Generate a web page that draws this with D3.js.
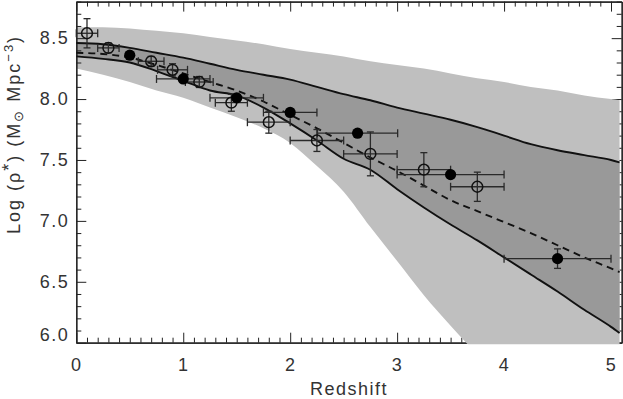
<!DOCTYPE html>
<html>
<head>
<meta charset="utf-8">
<script src="https://cdn.jsdelivr.net/npm/d3@7/dist/d3.min.js"></script>
<style>
  body { margin: 0; background: #fff; }
  text { font-family: "Liberation Sans", Arial, sans-serif; fill: #333; }
  .axis path, .axis line { stroke: #222; }
</style>
</head>
<body>
<div id="chart"></div>
<script>
'use strict';

// redshift grid for the model curves
const zGrid = [0, 0.25, 0.5, 0.75, 1, 1.25, 1.5, 1.75, 2, 2.25, 2.5, 2.75, 3, 3.25, 3.5, 3.75, 4, 4.25, 4.5, 4.75, 5, 5.08];
// light band (outer envelope)
const outerHi = [8.59, 8.59, 8.58, 8.56, 8.54, 8.51, 8.48, 8.45, 8.41, 8.38, 8.35, 8.31, 8.28, 8.25, 8.21, 8.17, 8.14, 8.10, 8.07, 8.03, 8.00, 7.99];
const outerLo = [8.25, 8.20, 8.14, 8.07, 8.01, 7.93, 7.85, 7.76, 7.64, 7.45, 7.24, 6.95, 6.67, 6.39, 6.14, 5.90, 5.65, 5.45, 5.25, 5.05, 4.85, 4.80];
// dark band bounded by the solid curves
const innerHi = [8.46, 8.45, 8.42, 8.38, 8.34, 8.29, 8.24, 8.20, 8.16, 8.10, 8.04, 7.99, 7.93, 7.88, 7.83, 7.77, 7.70, 7.63, 7.58, 7.54, 7.50, 7.48];
const innerLo = [8.35, 8.33, 8.30, 8.23, 8.15, 8.07, 8.03, 7.93, 7.80, 7.66, 7.51, 7.42, 7.26, 7.11, 6.97, 6.84, 6.70, 6.56, 6.42, 6.27, 6.13, 6.08];
// dashed curve
const dashed = [8.38, 8.37, 8.34, 8.28, 8.21, 8.14, 8.07, 7.98, 7.87, 7.76, 7.64, 7.52, 7.41, 7.29, 7.17, 7.08, 6.99, 6.90, 6.80, 6.70, 6.61, 6.58];

// open circles
const openZ = [0.1, 0.3, 0.7, 0.9, 1.15, 1.45, 1.8, 2.25, 2.75, 3.25, 3.75];
const openRho = [8.54, 8.42, 8.31, 8.24, 8.14, 7.97, 7.81, 7.66, 7.55, 7.42, 7.28];
const openZErr = [0.1, 0.1, 0.12, 0.14, 0.13, 0.15, 0.2, 0.25, 0.25, 0.25, 0.25];
const openRhoErr = [0.12, 0.04, 0.04, 0.05, 0.045, 0.07, 0.09, 0.09, 0.18, 0.14, 0.12];

// filled circles
const fillZ = [0.5, 1.0, 1.5, 2.0, 2.63, 3.5, 4.5];
const fillRho = [8.36, 8.165, 8.01, 7.89, 7.72, 7.38, 6.69];
const fillZErr = [0, 0.25, 0.25, 0.25, 0.375, 0.5, 0.5];
const fillRhoErr = [0, 0, 0, 0.03, 0, 0.03, 0.08];

const xTicks = [0, 1, 2, 3, 4, 5];
const yTicks = [6.0, 6.5, 7.0, 7.5, 8.0, 8.5];

const width = 623, height = 399;

let xScale = d3.scaleLinear().domain([0, 5.1]).range([76.3, 621.7]);
let yScale = d3.scaleLinear().domain([6, 8.8]).range([342.7, 1.6]);

let svg = d3.select('#chart').append('svg')
    .attr('width', width)
    .attr('height', height);

let minorX = d3.range(0, 51).map(d => d / 10).filter(d => d % 1 !== 0);
let minorY = d3.range(60, 89).map(d => d / 10).filter(d => Math.round(d * 10) % 5 !== 0);

function drawAxis(axisFn, transform, labels) {
    let g = svg.append('g').attr('class', 'axis').attr('transform', transform);
    g.append('g').call(axisFn(false));
    g.append('g').call(axisFn(true));
    g.selectAll('.domain').attr('stroke-width', 1.2);
    if (!labels) g.selectAll('text').remove();
    return g;
}

const y0 = yScale(6), x0 = xScale(0), x1 = xScale(5.1), yTop = yScale(8.8);

// bottom and right axes sit under the bands
let bottom = drawAxis(minor => minor
        ? d3.axisBottom(xScale).tickValues(minorX).tickSize(-5).tickSizeOuter(0).tickFormat('')
        : d3.axisBottom(xScale).tickValues(xTicks).tickSize(-10).tickSizeOuter(0).tickPadding(16).tickFormat(d3.format('d')),
    `translate(0,${y0})`, true);
bottom.selectAll('text').attr('font-size', 18).attr('letter-spacing', 1.5).attr('fill', '#333');

drawAxis(minor => minor
        ? d3.axisRight(yScale).tickValues(minorY).tickSize(-5).tickSizeOuter(0)
        : d3.axisRight(yScale).tickValues(yTicks).tickSize(-10).tickSizeOuter(0),
    `translate(${x1},0)`, false);

// bands
svg.append('clipPath').attr('id', 'clip')
    .append('rect')
    .attr('x', x0)
    .attr('y', 0)
    .attr('width', x1 - x0)
    .attr('height', y0 + 1.5);

let bandArea = (lo, hi) => d3.area()
    .x((d, i) => xScale(zGrid[i]))
    .y0((d, i) => yScale(lo[i]))
    .y1((d, i) => yScale(hi[i]))
    .curve(d3.curveMonotoneX)(zGrid);

let bands = svg.append('g').attr('clip-path', 'url(#clip)');
bands.append('path').attr('d', bandArea(outerLo, outerHi)).attr('fill', '#bfbfbf');
bands.append('path').attr('d', bandArea(innerLo, innerHi)).attr('fill', '#999999');

// left and top axes on top
let left = drawAxis(minor => minor
        ? d3.axisLeft(yScale).tickValues(minorY).tickSize(-5).tickSizeOuter(0).tickFormat('')
        : d3.axisLeft(yScale).tickValues(yTicks).tickSize(-10).tickSizeOuter(0).tickPadding(7).tickFormat(d3.format('.1f')),
    `translate(${x0},0)`, true);
left.selectAll('text').attr('font-size', 18).attr('letter-spacing', 1.5).attr('fill', '#333');
left.selectAll('.tick text').filter(d => d === 6).attr('dy', '-0.1em');

drawAxis(minor => minor
        ? d3.axisTop(xScale).tickValues(minorX).tickSize(-5).tickSizeOuter(0)
        : d3.axisTop(xScale).tickValues(xTicks).tickSize(-10).tickSizeOuter(0),
    `translate(0,${yTop})`, false);

// model curves
let curve = vals => d3.line()
    .x((d, i) => xScale(zGrid[i]))
    .y((d, i) => yScale(vals[i]))
    .curve(d3.curveMonotoneX)(zGrid);

let lines = svg.append('g').attr('fill', 'none').attr('stroke', '#111').attr('stroke-width', 1.9);
lines.append('path').attr('d', curve(innerHi));
lines.append('path').attr('d', curve(innerLo));
lines.append('path').attr('d', curve(dashed)).attr('stroke-dasharray', '7,5');

// error bars
function errorBars(zs, rhos, zErr, rhoErr) {
    let g = svg.append('g').attr('stroke', '#2a2a2a').attr('stroke-width', 1.3).attr('fill', 'none');
    zs.forEach((z, i) => {
        let cx = xScale(z), cy = yScale(rhos[i]);
        if (zErr[i] > 0) {
            let xa = xScale(z - zErr[i]), xb = xScale(z + zErr[i]);
            g.append('line').attr('x1', xa).attr('x2', xb).attr('y1', cy).attr('y2', cy);
            g.append('line').attr('x1', xa).attr('x2', xa).attr('y1', cy - 4).attr('y2', cy + 4);
            g.append('line').attr('x1', xb).attr('x2', xb).attr('y1', cy - 4).attr('y2', cy + 4);
        }
        if (rhoErr[i] > 0) {
            let ya = yScale(rhos[i] - rhoErr[i]), yb = yScale(rhos[i] + rhoErr[i]);
            g.append('line').attr('x1', cx).attr('x2', cx).attr('y1', ya).attr('y2', yb);
            g.append('line').attr('x1', cx - 3.5).attr('x2', cx + 3.5).attr('y1', ya).attr('y2', ya);
            g.append('line').attr('x1', cx - 3.5).attr('x2', cx + 3.5).attr('y1', yb).attr('y2', yb);
        }
    });
}
errorBars(openZ, openRho, openZErr, openRhoErr);
errorBars(fillZ, fillRho, fillZErr, fillRhoErr);

svg.append('g').selectAll('circle')
    .data(openZ)
    .enter()
    .append('circle')
    .attr('cx', d => xScale(d))
    .attr('cy', (d, i) => yScale(openRho[i]))
    .attr('r', 5.4)
    .attr('fill', 'none')
    .attr('stroke', '#111')
    .attr('stroke-width', 1.5);

svg.append('g').selectAll('circle')
    .data(fillZ)
    .enter()
    .append('circle')
    .attr('cx', d => xScale(d))
    .attr('cy', (d, i) => yScale(fillRho[i]))
    .attr('r', 5.6)
    .attr('fill', '#000');

// axis titles
svg.append('text')
    .text('Redshift')
    .attr('font-size', 18)
    .attr('letter-spacing', 1.5)
    .attr('text-anchor', 'middle')
    .attr('transform', `translate(${(x0 + x1) / 2}, 395)`);

let yTitle = svg.append('text')
    .attr('font-size', 18)
    .attr('letter-spacing', 2)
    .attr('transform', 'translate(20, 234) rotate(-90)');
yTitle.append('tspan').text('Log (ρ');
yTitle.append('tspan').text('*').attr('dy', -5);
yTitle.append('tspan').text(')  (M').attr('dy', 5);
yTitle.append('tspan').text('⊙').attr('font-size', 13).attr('dy', 3);
yTitle.append('tspan').text(' Mpc').attr('dy', -3);
yTitle.append('tspan').text('−3').attr('font-size', 13).attr('dy', -7);
yTitle.append('tspan').text(')').attr('dy', 7);
</script>
</body>
</html>
